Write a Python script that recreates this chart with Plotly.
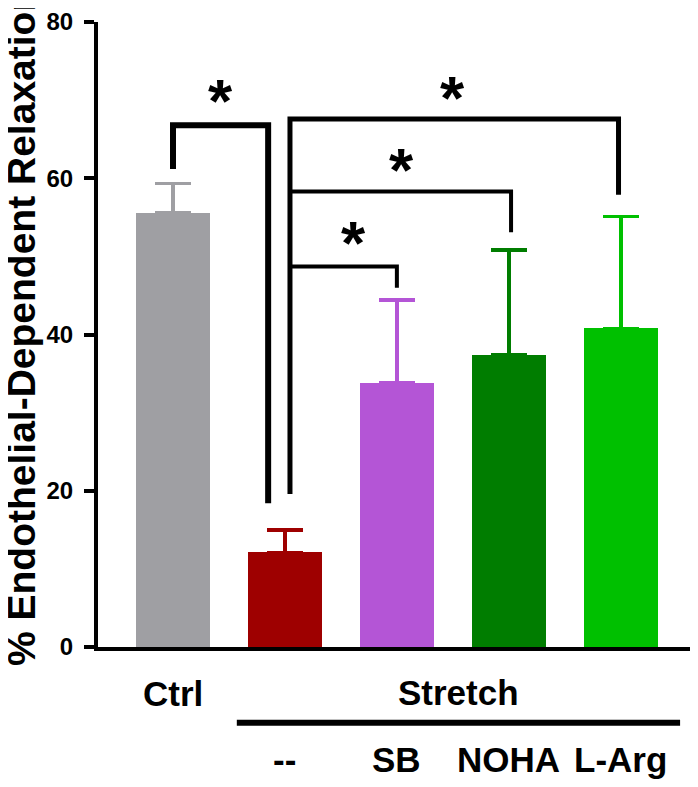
import plotly.graph_objects as go

# ---- data ----
categories = ["Ctrl", "--", "SB", "NOHA", "L-Arg"]
means = [55.6, 12.1, 33.8, 37.4, 40.8]
sem = [3.7, 2.9, 10.6, 13.4, 14.3]
colors = ["#9f9fa3", "#9e0000", "#b455d6", "#007d00", "#00c000"]
y_ticks = [0, 20, 40, 60, 80]
group_label = "Stretch"
y_title = "% Endothelial-Dependent Relaxation"

FONT = "Liberation Sans, Arial, sans-serif"
xpos = list(range(len(categories)))

fig = go.Figure()
for i, (m, e, c) in enumerate(zip(means, sem, colors)):
    fig.add_trace(go.Bar(
        x=[xpos[i]], y=[m], width=0.66,
        marker=dict(color=c, line=dict(width=0)),
        error_y=dict(type="data", array=[e], arrayminus=[0], symmetric=False,
                     color=c, thickness=3.5, width=18),
        showlegend=False, hoverinfo="skip",
    ))

# significance brackets (data coordinates)
def path(pts):
    return "M " + " L ".join(f"{x},{y}" for x, y in pts)

brackets = [
    ([(0.0, 61.2), (0.0, 66.8), (0.85, 66.8), (0.85, 18.4)], 6),
    ([(1.045, 19.6), (1.045, 67.6), (3.98, 67.6), (3.98, 57.9)], 5),
    ([(1.045, 58.3), (3.02, 58.3), (3.02, 53.1)], 4),
    ([(1.045, 48.7), (2.0, 48.7), (2.0, 46.0)], 4),
]
for pts, w in brackets:
    fig.add_shape(type="path", path=path(pts), xref="x", yref="y",
                  line=dict(color="black", width=w))

STAR = 62
stars = [(0.42, 71.0), (2.5, 71.4), (2.04, 62.1), (1.61, 52.8)]
for sx, sy in stars:
    fig.add_annotation(x=sx, y=sy, text="*", showarrow=False, xref="x", yref="y",
                       font=dict(family=FONT, size=STAR, color="black", weight="bold"),
                       yshift=-0.21 * STAR + 5)

# category labels
LBL = 35
fig.add_annotation(x=xpos[0], y=0, xref="x", yref="paper", text=categories[0],
                   showarrow=False, yanchor="middle", yshift=-46,
                   font=dict(family=FONT, size=LBL, color="black", weight="bold"))
fig.add_annotation(x=2.55, y=0, xref="x", yref="paper", text=group_label,
                   showarrow=False, yanchor="middle", yshift=-45,
                   font=dict(family=FONT, size=LBL, color="black", weight="bold"))
for i in range(1, len(categories)):
    fig.add_annotation(x=xpos[i], y=0, xref="x", yref="paper", text=categories[i],
                       showarrow=False, yanchor="middle", yshift=-112,
                       font=dict(family=FONT, size=LBL, color="black", weight="bold"))
fig.add_shape(type="line", xref="x", yref="paper", x0=0.57, x1=4.53,
              y0=-0.1212, y1=-0.1212, line=dict(color="black", width=6))

# y-axis title (rotated, runs off the top like the reference)
fig.add_annotation(x=(13 - 90) / 600, y=(639 - 318) / 627, xref="paper", yref="paper",
                   text=y_title, textangle=-90, showarrow=False,
                   xanchor="center", yanchor="middle",
                   font=dict(family=FONT, size=39, color="black", weight="bold"))

fig.update_layout(
    width=690, height=779,
    margin=dict(l=90, r=0, t=12, b=140),
    paper_bgcolor="white", plot_bgcolor="white",
    bargap=0,
    xaxis=dict(range=[-0.67, 4.69], showgrid=False, zeroline=False,
               showticklabels=False, ticks="", showline=True,
               linecolor="black", linewidth=4, fixedrange=True),
    yaxis=dict(range=[0, 80], tickvals=y_ticks, showgrid=False, zeroline=False,
               showline=True, linecolor="black", linewidth=4,
               ticks="outside", ticklen=10, tickwidth=4, tickcolor="black",
               ticklabelstandoff=6, ticklabeloverflow="allow",
               tickfont=dict(family=FONT, size=24, color="black", weight="bold"),
               fixedrange=True),
)

fig.write_html("out.html")
